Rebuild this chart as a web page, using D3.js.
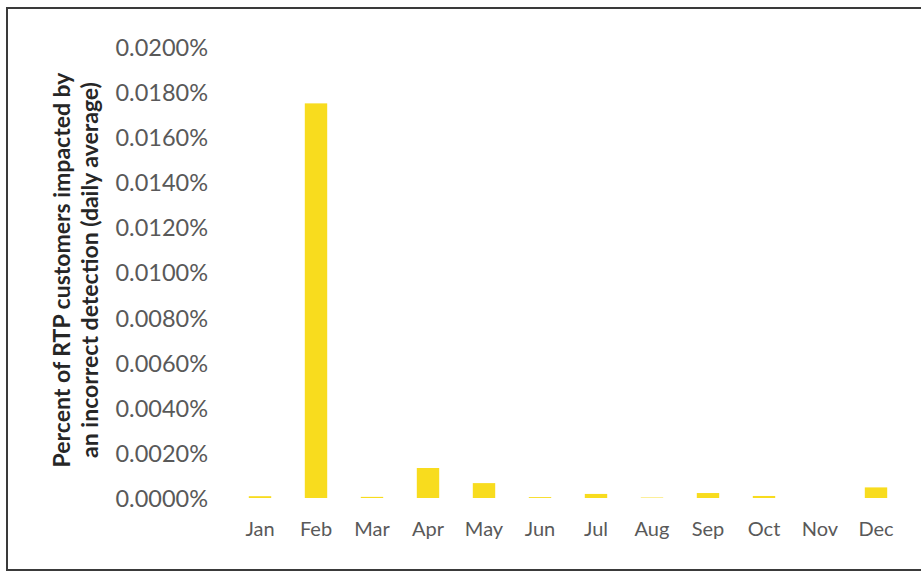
<!DOCTYPE html>
<html>
<head>
<meta charset="utf-8">
<script src="https://cdn.jsdelivr.net/npm/d3@7"></script>
<style>
  html, body { margin: 0; padding: 0; background: #fff; }
  svg { display: block; }
</style>
</head>
<body>
<div id="chart"></div>
<script>
// Données
const months = ['Jan', 'Feb', 'Mar', 'Apr', 'May', 'Jun', 'Jul', 'Aug', 'Sep', 'Oct', 'Nov', 'Dec'];
const pctImpacted = [0.00008, 0.0175, 0.00005, 0.00133, 0.00066, 0.00004, 0.00018, 0.00002, 0.00022, 0.00009, 0, 0.00047];
const yTicks = [0, 0.002, 0.004, 0.006, 0.008, 0.010, 0.012, 0.014, 0.016, 0.018, 0.020];
const titleLines = ['Percent of RTP customers impacted by', 'an incorrect detection (daily average)'];

const CFG = {
  width: 921, height: 575,
  plot: { left: 232, right: 904, top: 47, bottom: 498 },
  barColor: '#f8dc1e',
  textColor: '#595959',
  titleColor: '#262626',
  font: 'Lato, "Open Sans", sans-serif',
};

const { width: W, height: H, plot: p } = CFG;

const svg = d3.select('#chart').append('svg')
  .attr('width', W).attr('height', H);

// Cadre
svg.append('rect')
  .attr('x', 7).attr('y', 8)
  .attr('width', W + 10).attr('height', 562)
  .attr('fill', 'none')
  .attr('stroke', '#3a3a3a')
  .attr('stroke-width', 2);

// Échelles
const x = d3.scaleBand().domain(months).range([p.left, p.right])
  .paddingInner(0.6).paddingOuter(0.3);
const y = d3.scaleLinear().domain([0, 0.02]).range([p.bottom, p.top]);

// Axe Y (sans ligne)
svg.append('g')
  .attr('transform', `translate(${208},0)`)
  .call(d3.axisLeft(y).tickValues(yTicks).tickSize(0).tickPadding(0)
    .tickFormat(d => d3.format('.4f')(d) + '%'))
  .call(g => g.select('.domain').remove())
  .call(g => g.selectAll('text')
    .attr('dy', '0.36em')
    .style('fill', CFG.textColor)
    .style('font-size', '23.5px')
    .style('font-family', CFG.font));

// Axe X
svg.append('g')
  .attr('transform', `translate(0,${p.bottom})`)
  .call(d3.axisBottom(x).tickSize(0).tickPadding(24))
  .call(g => g.select('.domain').remove())
  .call(g => g.selectAll('text')
    .style('fill', CFG.textColor)
    .style('font-size', '20px')
    .style('font-family', CFG.font));

// Barres
svg.append('g').selectAll('rect')
  .data(months.map((m, i) => ({ m, v: pctImpacted[i] })))
  .join('rect')
  .attr('x', d => x(d.m))
  .attr('width', x.bandwidth())
  .attr('y', d => y(d.v))
  .attr('height', d => y(0) - y(d.v))
  .attr('fill', CFG.barColor);

// Titre de l'axe Y (deux lignes, tourné)
const title = svg.append('text')
  .attr('transform', 'translate(62,270) rotate(-90)')
  .attr('text-anchor', 'middle')
  .style('font-family', CFG.font)
  .style('font-weight', 'bold')
  .style('font-size', '23px')
  .style('fill', CFG.titleColor);
title.selectAll('tspan').data(titleLines).join('tspan')
  .attr('x', 0)
  .attr('dy', (d, i) => i === 0 ? '0.35em' : '1.2em')
  .text(d => d);
</script>
</body>
</html>
